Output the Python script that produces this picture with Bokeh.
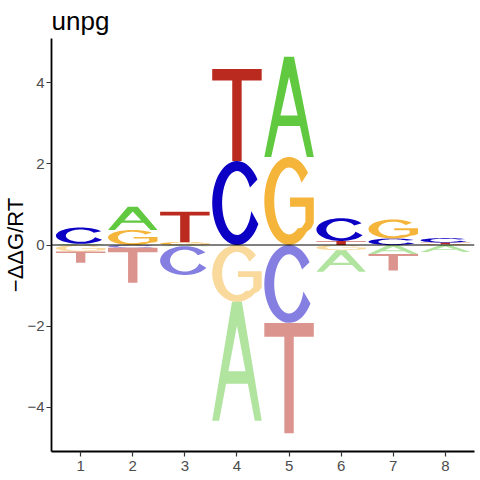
import numpy as np
from bokeh.plotting import figure
from bokeh.models import Span, Range1d, FixedTicker, ColumnDataSource
from bokeh.embed import file_html
from bokeh.resources import INLINE

# ---- data ----
positions = [1, 2, 3, 4, 5, 6, 7, 8]
A_vals = [0.03, 0.57, -0.03, -2.93, 2.47, -0.53, -0.22, -0.17]
C_vals = [0.40, -0.07, -0.71, 2.07, -1.92, 0.56, 0.16, 0.11]
G_vals = [-0.16, 0.37, 0.07, -1.40, 2.17, -0.13, 0.47, 0.02]
T_vals = [-0.28, -0.86, 0.75, 2.27, -2.72, 0.10, -0.41, 0.04]
y_ticks = [-4, -2, 0, 2, 4]
title_text = "unpg"
y_label = "\u2212\u0394\u0394G/RT"

letter_vals = {"A": A_vals, "C": C_vals, "G": G_vals, "T": T_vals}
letter_colors = {"A": "#61C93F", "C": "#0B00C4", "G": "#F5B43A", "T": "#BA2A1E"}
LETTER_W = 0.95

X_MIN, X_MAX = 0.44, 8.56
Y_MIN, Y_MAX = -5.09, 5.09


# ---- unit letter outlines (x, y in [0, 1]) ----
def arc(cx, cy, rx, ry, a0, a1, n=48):
    t = np.radians(np.linspace(a0, a1, n))
    return [(cx + rx * np.cos(a), cy + ry * np.sin(a)) for a in t]


shape_T = [[(0, 1), (1, 1), (1, 0.875), (0.595, 0.875), (0.595, 0),
            (0.405, 0), (0.405, 0.875), (0, 0.875)]]
shape_A = [[(0, 0), (0.14, 0), (0.28, 0.31), (0.72, 0.31), (0.86, 0), (1, 0),
            (0.6, 1), (0.4, 1)],
           [(0.327, 0.415), (0.673, 0.415), (0.5, 0.80)]]
shape_C = [arc(0.5, 0.5, 0.5, 0.5, 34, 330) +
           list(reversed(arc(0.5, 0.5, 0.3, 0.38, 29, 345)))]
shape_G = [arc(0.5, 0.5, 0.5, 0.5, 40, 315) +
           [(0.95, 0.19), (1.0, 0.25), (1.0, 0.54), (0.52, 0.54), (0.52, 0.435),
            (0.83, 0.435), (0.83, 0.26), (0.76, 0.20)] +
           list(reversed(arc(0.5, 0.5, 0.3, 0.38, 33, 305)))]
SHAPES = {"A": shape_A, "C": shape_C, "G": shape_G, "T": shape_T}

# ---- build stacked letter polygons from the data ----
xs, ys, cols, alphas = [], [], [], []
for i, pos in enumerate(positions):
    items = [(L, letter_vals[L][i]) for L in "ACGT"]
    pos_items = sorted([it for it in items if it[1] > 0], key=lambda t: t[1])
    neg_items = sorted([it for it in items if it[1] <= 0], key=lambda t: -t[1])
    stacks = []
    base = 0.0
    for L, v in pos_items:
        stacks.append((L, base, v, 1.0))
        base += v
    base = 0.0
    for L, v in neg_items:
        stacks.append((L, base + v, -v, 0.5))
        base += v
    for L, bottom, h, alpha in stacks:
        rings_x, rings_y = [], []
        for ring in SHAPES[L]:
            rings_x.append([pos - LETTER_W / 2 + ux * LETTER_W for ux, uy in ring])
            rings_y.append([bottom + uy * h for ux, uy in ring])
        xs.append([rings_x])
        ys.append([rings_y])
        cols.append(letter_colors[L])
        alphas.append(alpha)

src = ColumnDataSource(dict(xs=xs, ys=ys, color=cols, alpha=alphas))

p = figure(width=476, height=478, output_backend="svg", toolbar_location=None,
           x_range=Range1d(X_MIN, X_MAX), y_range=Range1d(Y_MIN, Y_MAX),
           min_border_left=51, min_border_right=2, min_border_top=37,
           min_border_bottom=27)

p.multi_polygons(xs="xs", ys="ys", fill_color="color", fill_alpha="alpha",
                 line_color=None, source=src)

p.add_layout(Span(location=0, dimension="width", line_color="black", line_width=1))

p.title.text = title_text
p.title.text_font = "Liberation Sans"
p.title.text_font_size = "26px"
p.title.text_font_style = "normal"
p.title.text_color = "black"
p.title.align = "left"
p.title.offset = 0
p.title.standoff = 6

p.xgrid.visible = False
p.ygrid.visible = False
p.outline_line_color = None
p.background_fill_color = "white"
p.border_fill_color = "white"

p.xaxis.ticker = FixedTicker(ticks=positions)
p.yaxis.ticker = FixedTicker(ticks=y_ticks)
for ax in (p.xaxis[0], p.yaxis[0]):
    ax.axis_line_color = "black"
    ax.axis_line_width = 1.8
    ax.major_tick_line_color = "#333333"
    ax.major_tick_line_width = 1.2
    ax.major_tick_in = 0
    ax.major_tick_out = 5
    ax.minor_tick_line_color = None
    ax.major_label_text_color = "#4D4D4D"
    ax.major_label_text_font = "Liberation Sans"
    ax.major_label_text_font_size = "15px"
    ax.axis_label_standoff = 0
p.xaxis.major_label_standoff = 4
p.yaxis.major_label_standoff = 2

p.yaxis.axis_label = y_label
p.yaxis.axis_label_text_font = "Liberation Sans"
p.yaxis.axis_label_text_font_size = "22px"
p.yaxis.axis_label_text_font_style = "normal"
p.yaxis.axis_label_text_color = "black"
p.yaxis.axis_label_standoff = -4

open("out.html", "w").write(file_html(p, INLINE))
